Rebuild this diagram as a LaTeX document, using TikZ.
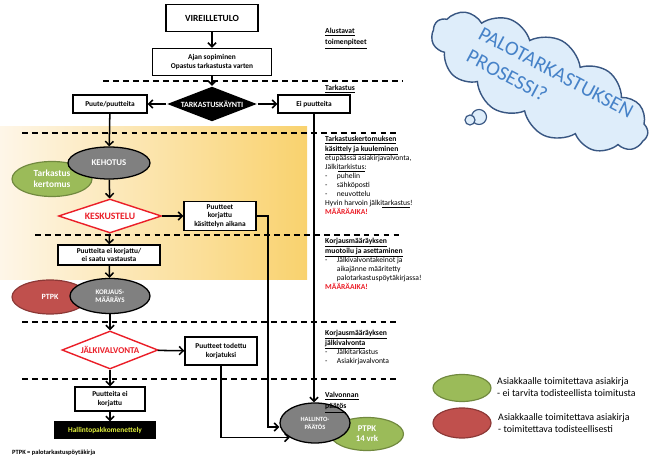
\documentclass[tikz,border=0pt]{standalone}
\usepackage{fontspec}
\setmainfont{Carlito}
\usetikzlibrary{shapes.geometric,shapes.symbols,arrows.meta}

\definecolor{kgray}{RGB}{128,128,128}
\definecolor{kgreen}{RGB}{155,187,89}
\definecolor{kgreenline}{RGB}{113,137,63}
\definecolor{kred}{RGB}{192,80,77}
\definecolor{kredline}{RGB}{140,56,54}
\definecolor{kdiam}{RGB}{235,30,40}
\definecolor{kblue}{RGB}{70,130,200}
\definecolor{kcloud}{RGB}{222,237,250}
\definecolor{kcloudline}{RGB}{56,86,130}
\definecolor{khpm}{RGB}{225,240,60}
\definecolor{korange}{RGB}{249,210,110}
\definecolor{kcream}{RGB}{254,246,232}

\tikzset{
  laatikko/.style={draw, line width=1.1pt, fill=white, align=center, inner sep=1pt,
    font=\bfseries\fontsize{6.3}{7.4}\selectfont},
  soikio/.style={ellipse, inner sep=0pt, align=center, text=white, line width=1pt,
    font=\bfseries\fontsize{7.5}{8.5}\selectfont},
  harmaa/.style={soikio, fill=kgray, draw=black, line width=1.1pt},
  vihrea/.style={soikio, fill=kgreen, draw=kgreenline},
  punainen/.style={soikio, fill=kred, draw=kredline},
  paatos/.style={diamond, inner sep=0pt, line width=1.2pt},
  yhteys/.style={->, line width=1.3pt},
  raja/.style={dash pattern=on 5pt off 3.5pt, line width=0.9pt},
  rtext/.style={anchor=north west, align=left, inner sep=0pt,
    font=\fontsize{6.5}{7.7}\selectfont},
  selite/.style={anchor=west, align=left, inner sep=0pt,
    font=\fontsize{8.5}{10.2}\selectfont},
}
\newcommand{\otsikko}[1]{\textbf{\underline{#1}}}
\newcommand{\viiva}{\makebox[10pt][l]{-}}
\newcommand{\maara}{\textcolor{kdiam}{\textbf{MÄÄRÄAIKA!}}}

\begin{document}
\begin{tikzpicture}[x=0.03cm, y=-0.03cm, >={Straight Barb[length=3.5pt,width=7pt]}]
  \useasboundingbox (0,0) rectangle (668,457);
  % tausta
  \shade[left color=kcream, right color=korange] (0,127) rectangle (307,280);

  % pilvi
  \node[cloud, cloud puffs=13, cloud puff arc=110, cloud ignores aspect, draw=kcloudline,
    fill=kcloud, line width=1.2pt, minimum width=7.2cm, minimum height=2.8cm,
    rotate=-28] (pilvi) at (540,82) {};
  \node[circle, draw=kcloudline, fill=kcloud, line width=1pt, minimum size=0.45cm,
    inner sep=0pt] (kupla1) at (479,117) {};
  \node[circle, draw=kcloudline, fill=kcloud, line width=1pt, minimum size=0.3cm,
    inner sep=0pt] (kupla2) at (470,120) {};
  \node[rotate=-28, text=kblue, align=left, font=\fontsize{17.5}{22}\selectfont]
    (pilviteksti) at (550,84) {PALOTARKASTUKSEN\\PROSESSI?};

  % rajat
  \draw[raja] (103,81) -- (402,81);
  \draw[raja] (22,133) -- (400,133);
  \draw[raja] (35,235) -- (400,235);
  \draw[raja] (22,322) -- (400,322);
  \draw[raja] (22,379) -- (400,379);

  % vaiheet
  \node[laatikko, minimum width=2.76cm, minimum height=0.81cm,
    font=\bfseries\fontsize{8}{9}\selectfont] (vire) at (212,18) {VIREILLETULO};
  \node[laatikko, minimum width=3.57cm, minimum height=0.81cm] (ajan) at (212,62)
    {Ajan sopiminen\\Opastus tarkastusta varten};
  \node[paatos, fill=black, minimum width=2.7cm, minimum height=1.05cm,
    label={[text=white, font=\bfseries\fontsize{6.8}{8}\selectfont]center:TARKASTUSKÄYNTI}]
    (tark) at (212,104) {};
  \node[laatikko, minimum width=2.22cm, minimum height=0.54cm] (puute) at (110,104) {Puute/puutteita};
  \node[laatikko, minimum width=2.16cm, minimum height=0.54cm] (eipuu) at (314,104) {Ei puutteita};

  \node[vihrea, minimum width=2.4cm, minimum height=1.05cm,
    font=\bfseries\fontsize{8}{9}\selectfont] (tkert) at (52,179) {Tarkastus\\kertomus};
  \node[harmaa, minimum width=2.46cm, minimum height=0.96cm] (kehotus) at (109,163) {KEHOTUS};
  \node[paatos, fill=white, draw=kdiam, minimum width=3.09cm, minimum height=1.02cm,
    label={[text=kdiam, font=\bfseries\fontsize{8.3}{9}\selectfont]center:KESKUSTELU}]
    (kesk) at (110,216) {};
  \node[laatikko, minimum width=2.16cm, minimum height=0.87cm] (pkorj) at (220,216)
    {Puutteet\\korjattu\\käsittelyn aikana};
  \node[laatikko, minimum width=3.06cm, minimum height=0.6cm] (peik) at (109,255)
    {Puutteita ei korjattu/\\ei saatu vastausta};

  \node[punainen, minimum width=2.28cm, minimum height=1.02cm,
    font=\bfseries\fontsize{6.8}{8}\selectfont] (ptpk) at (50,297) {PTPK};
  \node[harmaa, minimum width=2.4cm, minimum height=1.05cm,
    font=\bfseries\fontsize{6}{7.2}\selectfont] (korj) at (110,296) {KORJAUS-\\MÄÄRÄYS};
  \node[paatos, fill=white, draw=kdiam, minimum width=2.88cm, minimum height=1.14cm,
    label={[text=kdiam, font=\bfseries\fontsize{7.6}{9}\selectfont]center:JÄLKIVALVONTA}]
    (jalki) at (110,350) {};
  \node[laatikko, minimum width=2.16cm, minimum height=0.84cm] (ptod) at (221,351)
    {Puutteet todettu\\korjatuksi};
  \node[laatikko, minimum width=2.1cm, minimum height=0.72cm] (peik2) at (110,399)
    {Puutteita ei\\korjattu};
  \node[laatikko, fill=black, text=khpm, minimum width=3cm, minimum height=0.48cm]
    (hpm) at (105,430) {Hallintopakkomenettely};

  \node[vihrea, minimum width=2.19cm, minimum height=0.99cm] (ptpk14) at (367,434) {PTPK\\14 vrk};
  \node[harmaa, minimum width=2.1cm, minimum height=1.2cm,
    font=\bfseries\fontsize{5.5}{6.8}\selectfont] (hp) at (315,423) {HALLINTO-\\PÄÄTÖS};

  % yhteydet
  \draw[yhteys] (vire) -- (ajan);
  \draw[yhteys] (ajan) -- (tark);
  \draw[yhteys] (tark) -- (puute);
  \draw[yhteys] (tark) -- (eipuu);
  \draw[yhteys] (puute) -- (kehotus);
  \draw[yhteys] (eipuu.south) -- (eipuu.south |- hp.north);
  \draw[yhteys] (kehotus) -- (kesk);
  \draw[yhteys] (kesk) -- (pkorj);
  \coordinate (kaanne) at (268,427);
  \draw[yhteys] (pkorj.east) -| (kaanne) -- (hp.west |- kaanne);
  \draw[yhteys] (kesk) -- (peik);
  \draw[yhteys] (peik) -- (korj);
  \draw[yhteys] (korj) -- (jalki);
  \draw[yhteys] (jalki) -- (ptod);
  \draw[yhteys] (ptod.south) |- (hp.south west);
  \draw[yhteys] (jalki) -- (peik2);
  \draw[yhteys] (peik2.south) -- (peik2.south |- hpm.north);

  % selitykset oikealla
  \node[rtext] (alust) at (325,28) {\otsikko{Alustavat}\\[2pt]\otsikko{toimenpiteet}};
  \node[rtext] (tarkastus) at (325,85) {\otsikko{Tarkastus}};
  \node[rtext] (kuul) at (325,136) {\otsikko{Tarkastuskertomuksen}\\[1pt]
    \otsikko{käsittely ja kuuleminen}\\
    etupäässä asiakirjavalvonta,\\
    Jälki\underline{tarkistus}:\\
    \viiva puhelin\\
    \viiva sähköposti\\
    \viiva neuvottelu\\
    Hyvin harvoin jälki\underline{tarkastus}!\\
    \maara};
  \node[rtext] (muot) at (325,238) {\otsikko{Korjausmääräyksen}\\[1pt]
    \otsikko{muotoilu ja asettaminen}\\
    \viiva Jälkivalvontakeinot ja\\
    \hspace*{10pt}aikajänne määritetty\\
    \hspace*{10pt}palotarkastuspöytäkirjassa!\\
    \maara};
  \node[rtext] (jvalv) at (325,330) {\otsikko{Korjausmääräyksen}\\[1pt]
    \otsikko{jälkivalvonta}\\
    \viiva Jälkitarkastus\\
    \viiva Asiakirjavalvonta};
  \node[rtext] (valv) at (325,392) {\otsikko{Valvonnan}\\[2pt]\otsikko{päätös}};

  % selite
  \node[vihrea, minimum width=1.74cm, minimum height=0.81cm] (selvihr) at (462,388) {};
  \node[punainen, minimum width=1.74cm, minimum height=0.9cm] (selpun) at (462,423) {};
  \node[selite] (selvihrt) at (497,387) {Asiakkaalle toimitettava asiakirja\\- ei tarvita todisteellista toimitusta};
  \node[selite] (selpunt) at (498,423) {Asiakkaalle toimitettava asiakirja\\- toimitettava todisteellisesti};

  \node[anchor=west, inner sep=0pt, font=\bfseries\fontsize{5.5}{6.5}\selectfont] (alaviite)
    at (12,453) {PTPK = palotarkastuspöytäkirja};
\end{tikzpicture}
\end{document}
